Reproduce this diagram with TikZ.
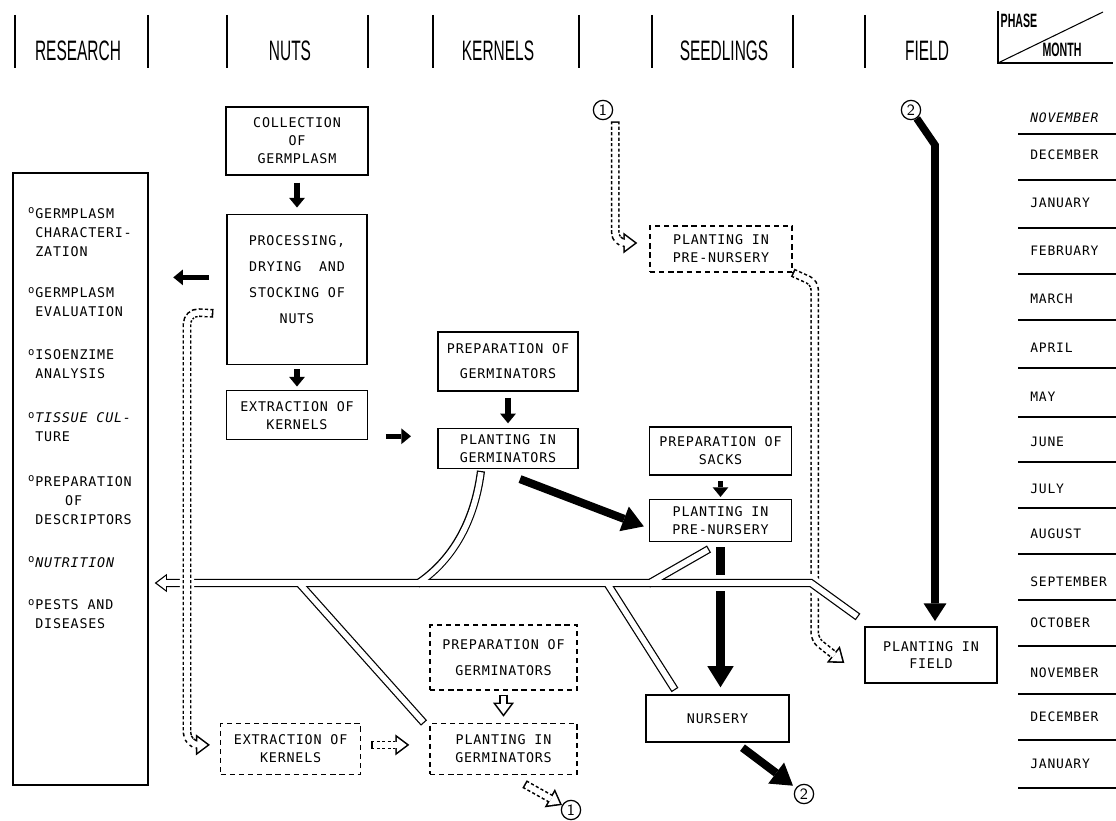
\documentclass[tikz,border=0pt]{standalone}
\usepackage{fontspec}
\usepackage{tikz}
\usetikzlibrary{positioning, arrows.meta}

\newfontfamily\boxfont[LetterSpace=6]{DejaVu Sans Mono}
\newfontfamily\headfont[FakeStretch=0.55]{Liberation Sans}

% 鱼骨状双线：同一组路径先画黑色外线，再画白色内线
\newcommand{\fishbone}[1]{%
    \draw[#1, tubetip] (mend) -- (mbend) -- (tubeend);
    \draw[#1] (b1top) .. controls (474,525) and (450,562) .. (b1foot);
    \draw[#1] (b2top) -- (b2end);
    \draw[#1] (b3top) -- (b3end);
    \draw[#1] (b4foot) -- (b4end);
}

\begin{document}
\begin{tikzpicture}[
        x=0.02cm, y=-0.02cm,
        node distance=0.5cm,
        % 方框样式
        block/.style={
            rectangle,
            draw=black,
            line width=0.8pt,
            fill=white,
            minimum width=2.84cm,
            inner sep=1pt,
            align=center,
            font=\boxfont\fontsize{7.6}{10.2}\selectfont
        },
        dblock/.style={block, dash pattern=on 3pt off 2.2pt},
        % 表头与月份
        phase/.style={font=\headfont\fontsize{16}{16}\selectfont},
        month/.style={anchor=west, inner sep=0pt, font=\boxfont\fontsize{7.4}{9}\selectfont},
        item/.style={anchor=west, inner sep=0pt, align=left, font=\boxfont\fontsize{7.6}{10.8}\selectfont},
        circ/.style={circle, draw=black, line width=0.7pt, inner sep=0pt, minimum size=11pt, font=\sffamily\fontsize{9}{9}\selectfont},
        % 实心箭头
        flow/.style={line width=3pt, -{Triangle[length=5.5pt, width=9pt, line width=0pt]}},
        bigflow/.style={line width=4.6pt, -{Triangle[length=12pt, width=15pt, line width=0pt]}},
        % 空心箭头
        hollow/.style={
            line width=5pt,
            -{Triangle[length=8pt, width=12pt, line width=0pt]},
            postaction={draw=white, solid, line width=3.2pt, -{Triangle[length=5.6pt, width=8.4pt, line width=0pt]}, shorten >=1.5pt, shorten <=0.9pt}
        },
        hollowdash/.style={hollow, dash pattern=on 1.8pt off 1.3pt},
        % 双线管道
        tubehalo/.style={draw=white, line width=9pt},
        tubeout/.style={line width=4.6pt, tubetip/.style={-{Triangle[length=7pt, width=10.5pt, line width=0pt]}}},
        tubein/.style={draw=white, line width=3.2pt, shorten <=0.7pt, shorten >=0.7pt,
            tubetip/.style={-{Triangle[length=5.1pt, width=7.7pt, line width=0pt]}, shorten >=1.2pt}}
    ]

    \useasboundingbox (0,0) rectangle (1116,821);

    % 1. 表头
    \draw[line width=1pt] (15,15) -- (15,68) (148,15) -- (148,68)
        (227,15) -- (227,68) (368,15) -- (368,68)
        (433,15) -- (433,68) (579,15) -- (579,68)
        (652,15) -- (652,68) (793,15) -- (793,68)
        (865,15) -- (865,68);
    \node[phase] (hresearch) at (78,51) {RESEARCH};
    \node[phase] (hnuts) at (290,51) {NUTS};
    \node[phase] (hkernels) at (498,51) {KERNELS};
    \node[phase] (hseed) at (724,51) {SEEDLINGS};
    \node[phase] (hfield) at (927,51) {FIELD};
    \draw[line width=0.8pt] (998,11) -- (998,63) -- (1113,63);
    \draw[line width=0.6pt] (998,63) -- (1103,12);
    \node[font=\headfont\bfseries\fontsize{11}{11}\selectfont] (hphase) at (1019,21) {PHASE};
    \node[font=\headfont\bfseries\fontsize{11}{11}\selectfont] (hmonth) at (1062,50) {MONTH};

    % 2. 月份栏
    \node[month] (m1) at (1030,118) {\itshape NOVEMBER};
    \node[month] (m2) at (1030,155) {DECEMBER};
    \node[month] (m3) at (1030,203) {JANUARY};
    \node[month] (m4) at (1030,251) {FEBRUARY};
    \node[month] (m5) at (1030,299) {MARCH};
    \node[month] (m6) at (1030,348) {APRIL};
    \node[month] (m7) at (1030,397) {MAY};
    \node[month] (m8) at (1030,442) {JUNE};
    \node[month] (m9) at (1030,489) {JULY};
    \node[month] (m10) at (1030,534) {AUGUST};
    \node[month] (m11) at (1030,582) {SEPTEMBER};
    \node[month] (m12) at (1030,623) {OCTOBER};
    \node[month] (m13) at (1030,673) {NOVEMBER};
    \node[month] (m14) at (1030,717) {DECEMBER};
    \node[month] (m15) at (1030,764) {JANUARY};
    \draw[line width=0.7pt] (1018,134) -- (1116,134) (1018,180) -- (1116,180)
        (1018,228) -- (1116,228) (1018,274) -- (1116,274)
        (1018,320) -- (1116,320) (1018,368) -- (1116,368)
        (1018,417) -- (1116,417) (1018,462) -- (1116,462)
        (1018,508) -- (1116,508) (1018,554) -- (1116,554)
        (1018,600) -- (1116,600) (1018,646) -- (1116,646)
        (1018,694) -- (1116,694) (1018,740) -- (1116,740)
        (1018,788) -- (1116,788);

    % 3. 研究栏
    \node[block, minimum width=2.7cm, minimum height=12.24cm] (research) at (80.5,479) {};
    \node[item] (r1) at (35,232) {\llap{\raisebox{0.6ex}{\fontsize{6}{6}\selectfont o}\hspace{0.5pt}}GERMPLASM\\CHARACTERI-\\ZATION};
    \node[item] (r2) at (35,302) {\llap{\raisebox{0.6ex}{\fontsize{6}{6}\selectfont o}\hspace{0.5pt}}GERMPLASM\\EVALUATION};
    \node[item] (r3) at (35,364) {\llap{\raisebox{0.6ex}{\fontsize{6}{6}\selectfont o}\hspace{0.5pt}}ISOENZIME\\ANALYSIS};
    \node[item] (r4) at (35,427) {\llap{\raisebox{0.6ex}{\fontsize{6}{6}\selectfont o}\hspace{0.5pt}}\textit{TISSUE CUL-}\\TURE};
    \node[item] (r5) at (35,500) {\llap{\raisebox{0.6ex}{\fontsize{6}{6}\selectfont o}\hspace{0.5pt}}PREPARATION\\\hspace*{17pt}OF\\DESCRIPTORS};
    \node[item] (r6) at (35,562) {\llap{\raisebox{0.6ex}{\fontsize{6}{6}\selectfont o}\hspace{0.5pt}}\textit{NUTRITION}};
    \node[item] (r7) at (35,614) {\llap{\raisebox{0.6ex}{\fontsize{6}{6}\selectfont o}\hspace{0.5pt}}PESTS AND\\DISEASES};

    % 4. 坚果与种仁
    \node[block, minimum height=1.36cm] (collect) at (297,141) {COLLECTION\\OF\\GERMPLASM};
    \node[block, minimum width=2.8cm, minimum height=3cm, below=0.76cm of collect,
        font=\boxfont\fontsize{7.6}{14.8}\selectfont] (process) {PROCESSING,\\DRYING\ \ AND\\STOCKING OF\\NUTS\\[-4pt]~};
    \node[block, minimum width=2.82cm, minimum height=0.98cm, below=0.5cm of process] (extract) {EXTRACTION OF\\KERNELS};
    \node[block, minimum width=2.8cm, minimum height=1.18cm] (prepgerm) at (508,361.5) {PREPARATION OF\\[4pt]GERMINATORS};
    \node[block, minimum width=2.8cm, minimum height=0.8cm, below=0.72cm of prepgerm] (plantgerm) {PLANTING IN\\GERMINATORS};

    % 5. 苗圃与大田
    \node[circ] (c1top) at (603,110) {1};
    \node[dblock, minimum height=0.92cm] (prenursery2) at (721,249) {PLANTING IN\\PRE-NURSERY};
    \node[block, minimum height=0.96cm] (sacks) at (720.5,451) {PREPARATION OF\\SACKS};
    \node[block, minimum height=0.84cm, below=0.46cm of sacks] (prenursery) {PLANTING IN\\PRE-NURSERY};
    \node[block, minimum width=2.86cm, minimum height=0.94cm] (nursery) at (717.5,718.5) {NURSERY};
    \node[circ] (c2bot) at (804,794) {2};
    \node[circ] (c2top) at (911,110) {2};
    \node[block, minimum width=2.64cm, minimum height=1.12cm] (field) at (931,655) {PLANTING IN\\FIELD};

    % 6. 虚线方框（第二次）
    \node[dblock, minimum width=2.94cm, minimum height=1.3cm] (prepgerm2) at (503.5,657.5) {PREPARATION OF\\[5pt]GERMINATORS};
    \node[dblock, minimum width=2.94cm, minimum height=1.02cm, below=0.64cm of prepgerm2] (plantgerm2) {PLANTING IN\\GERMINATORS};
    \node[dblock, minimum width=2.8cm, minimum height=1.02cm, left=1.36cm of plantgerm2] (extract2) {EXTRACTION OF\\KERNELS};
    \node[circ] (c1bot) at (571,810) {1};

    % 7. 实心箭头
    \draw[flow, shorten <=4pt, shorten >=3.5pt] (collect) -- (process);
    \draw[flow, shorten <=2.5pt, shorten >=2pt] (process) -- (extract);
    \draw[flow, shorten <=10pt, shorten >=14pt] ([shift={(0,-12)}]process.west) -- ([shift={(0,-12)}]process.west -| research.east);
    \draw[flow, shorten <=10pt, shorten >=15pt] ([shift={(0,21)}]extract.east) -- ([shift={(0,21)}]extract.east -| plantgerm.west);
    \draw[flow, shorten <=3.5pt, shorten >=2.5pt] (prepgerm) -- (plantgerm);
    \draw[flow, shorten <=3pt, shorten >=1pt] (sacks) -- (prenursery);
    \draw[bigflow] ([shift={(12,10)}]plantgerm.south) -- ([shift={(-5,6)}]prenursery.west);
    \draw[bigflow, shorten <=3pt, shorten >=4pt] (prenursery.south) -- (prenursery.south |- nursery.north);
    \draw[bigflow, shorten >=2pt] ([shift={(25,5)}]nursery.south) -- (c2bot);
    \coordinate (bend2) at (935,145);
    \draw[line width=4.3pt, -{Triangle[length=10pt, width=13pt, line width=0pt]}, shorten >=3pt] (c2top) -- (bend2) -- (bend2 |- field.north);

    % 8. 空心箭头
    \draw[hollow] ([shift={(0,4)}]prepgerm2.south) -- ([shift={(0,-6)}]plantgerm2.north);
    \draw[hollowdash] ([shift={(10,-4)}]extract2.east) -- ([shift={(-20,-4)}]plantgerm2.west);
    \draw[hollowdash] ([shift={(21,9)}]plantgerm2.south) -- (c1bot);
    \draw[hollowdash, rounded corners=6pt] ([shift={(5,4)}]c1top.south east) |- ([shift={(-12,-6)}]prenursery2.west);
    \draw[hollowdash, rounded corners=4pt] (prenursery2.south east) -- ++(22,10) -- ++(0,357) -- ([shift={(-20,8)}]field.west);

    % 9. 鱼骨双线
    \coordinate (mend) at (858,617);
    \coordinate (mbend) at (811,583);
    \path (research.east |- mbend) ++(6,0) coordinate (tubeend);
    \coordinate (b1top) at (481,471);
    \coordinate (b1foot) at (417,584);
    \coordinate (b2top) at (299,583);
    \coordinate (b2end) at (424,723);
    \coordinate (b3top) at (607,583);
    \coordinate (b3end) at (675,690);
    \coordinate (b4foot) at (648,584);
    \coordinate (b4end) at (709,549);
    \draw[tubehalo] (mend) -- (mbend) -- (tubeend);
    \fishbone{tubeout}
    \fishbone{tubein}

    % 10. 坚果到虚线种仁框
    \coordinate (dropx) at (187,312);
    \draw[hollowdash, rounded corners=7pt, preaction={draw=white, solid, line width=8pt, arrows=-}]
        ([shift={(-13,24)}]process.west) -- (dropx) |- ([shift={(-10,-4)}]extract2.west);

\end{tikzpicture}
\end{document}
